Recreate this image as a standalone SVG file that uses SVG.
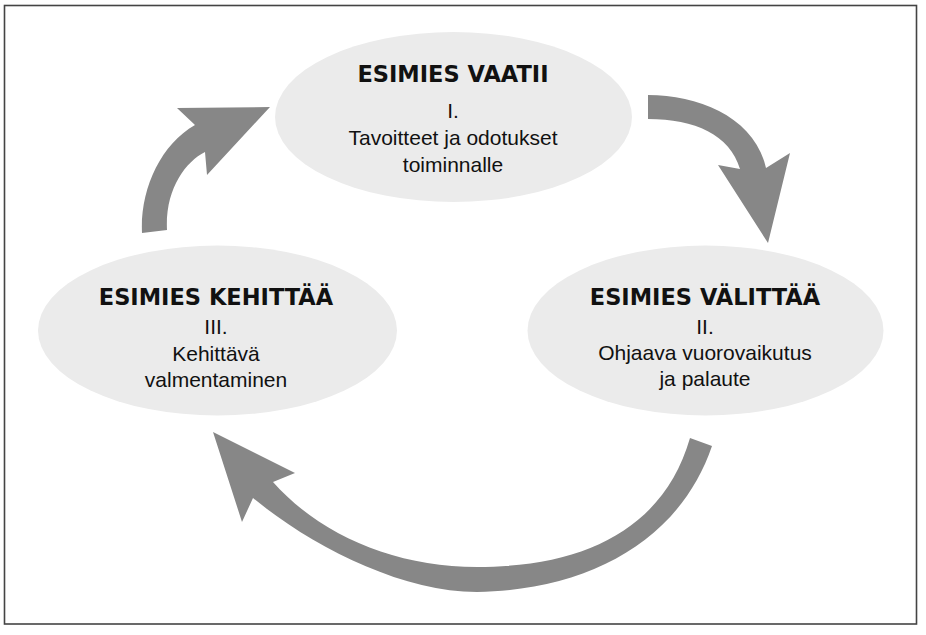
<svg xmlns="http://www.w3.org/2000/svg" width="926" height="635" viewBox="0 0 926 635">
<style>
.node ellipse{fill:#ebebeb}
.h{font-family:"DejaVu Sans",sans-serif;font-weight:bold;font-size:22.5px;fill:#111;text-anchor:middle}
.t{font-family:"Liberation Sans",Arial,sans-serif;font-size:21px;fill:#111;text-anchor:middle}
.arrow{fill:#878787}
</style>
<rect x="0" y="0" width="926" height="635" fill="#fff"/>
<rect x="4.5" y="5.5" width="912" height="618.5" fill="none" stroke="#444" stroke-width="1.6"/>
<g id="node-vaatii" class="node">
<ellipse cx="453.5" cy="117" rx="178.5" ry="85"/>
<text class="h" x="453" y="82">ESIMIES VAATII</text>
<text class="t" x="453" y="118">I.</text>
<text class="t" x="453" y="145">Tavoitteet ja odotukset</text>
<text class="t" x="453" y="172">toiminnalle</text>
</g>
<g id="node-valittaa" class="node">
<ellipse cx="705.5" cy="330.5" rx="178" ry="85"/>
<text class="h" x="705" y="305">ESIMIES VÄLITTÄÄ</text>
<text class="t" x="705" y="334">II.</text>
<text class="t" x="705" y="360">Ohjaava vuorovaikutus</text>
<text class="t" x="705" y="386">ja palaute</text>
</g>
<g id="node-kehittaa" class="node">
<ellipse cx="217.5" cy="330.5" rx="179.5" ry="85"/>
<text class="h" x="216" y="305">ESIMIES KEHITTÄÄ</text>
<text class="t" x="216" y="334">III.</text>
<text class="t" x="216" y="361">Kehittävä</text>
<text class="t" x="216" y="387">valmentaminen</text>
</g>
<g id="connectors">
<path class="arrow" d="M648,95 C700,95 755,118 766,168 L790,153 L768,243 L718,165 L740,169 C730,135 695,119 648,119 Z"/>
<path class="arrow" d="M712,446 C680,540 590,590 477,592 C400,592 310,545 253,498 L242,522 L213,432 L295,473 L273,482 C320,535 395,567 477,567 C590,567 665,525 690,438 Z"/>
<path class="arrow" d="M142,233 C140,190 160,145 195,125 L177,108 L270,107 L207,175 L205,152 C185,162 165,190 167,230 Z"/>
</g>
</svg>
